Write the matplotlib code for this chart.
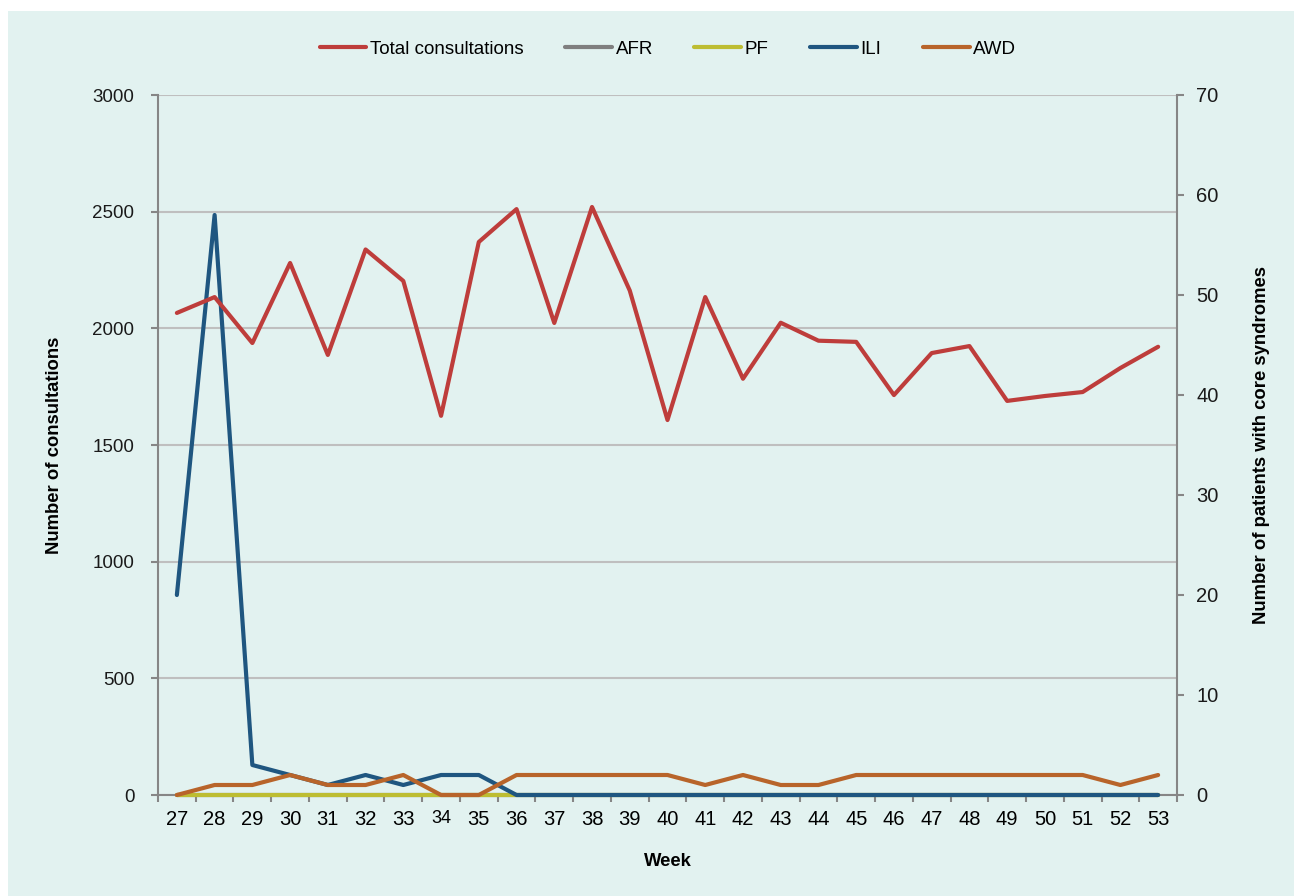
import matplotlib
matplotlib.use("Agg")
import matplotlib.pyplot as plt
from matplotlib.patches import Rectangle
from matplotlib.ticker import MultipleLocator, FixedLocator

plt.rcParams['font.family'] = ['Liberation Sans', 'DejaVu Sans']

weeks = list(range(27, 54))
total_consultations = [2066, 2134, 1937, 2280, 1886, 2338, 2203, 1625, 2370, 2511,
                       2023, 2520, 2162, 1607, 2134, 1784, 2024, 1947, 1942, 1714,
                       1894, 1924, 1689, 1710, 1727, 1830, 1921]
afr = [0] * 27
pf = [0] * 27
ili = [20, 58, 3, 2, 1, 2, 1, 2, 2, 0, 0, 0, 0, 0, 0, 0, 0, 0, 0, 0, 0, 0, 0, 0, 0, 0, 0]
awd = [0, 1, 1, 2, 1, 1, 2, 0, 0, 2, 2, 2, 2, 2, 1, 2, 1, 1, 2, 2, 2, 2, 2, 2, 2, 1, 2]

c_total = '#BE3D3B'
c_afr = '#7F7F7F'
c_pf = '#BDBD32'
c_ili = '#1F5680'
c_awd = '#B8642A'
bg = '#E2F2F0'
axis_grey = '#868686'

fig = plt.figure(figsize=(12.94, 8.96), dpi=100)
fig.patch.set_facecolor('white')
fig.patches.append(Rectangle((8 / 1294, 0), 1 - 8 / 1294, 1 - 11 / 896,
                             transform=fig.transFigure, facecolor=bg,
                             edgecolor='none', zorder=-10))

L, R = 158 / 1294, 1177 / 1294
B, T = 1 - 795 / 896, 1 - 95 / 896
rect = [L, B, R - L, T - B]

# base axes: left scale, grid, spines, ticks
ax = fig.add_axes(rect)
ax.set_facecolor('none')
ax.set_zorder(0)
# right-scale axes: syndrome lines
ax2 = ax.twinx()
ax2.set_facecolor('none')
ax2.set_zorder(1)
# top layer for total consultations (same scale as ax)
ax3 = fig.add_axes(rect, sharex=ax, sharey=ax)
ax3.set_facecolor('none')
ax3.set_zorder(2)
ax3.axis('off')

lw = 3.0
l2, = ax2.plot(weeks, afr, color=c_afr, lw=lw, solid_capstyle='round', label='AFR',
               zorder=3, clip_on=False)
l3, = ax2.plot(weeks, pf, color=c_pf, lw=lw, solid_capstyle='round', label='PF',
               zorder=4, clip_on=False)
l4, = ax2.plot(weeks, ili, color=c_ili, lw=lw, solid_capstyle='round',
               solid_joinstyle='round', label='ILI', zorder=5, clip_on=False)
l5, = ax2.plot(weeks, awd, color=c_awd, lw=lw, solid_capstyle='round',
               solid_joinstyle='round', label='AWD', zorder=6, clip_on=False)
l1, = ax3.plot(weeks, total_consultations, color=c_total, lw=lw, solid_capstyle='round',
               solid_joinstyle='round', label='Total consultations', zorder=5)

ax.set_xlim(26.5, 53.5)
ax.set_ylim(0, 3000)
ax2.set_ylim(0, 70)

ax.yaxis.set_major_locator(MultipleLocator(500))
ax2.yaxis.set_major_locator(MultipleLocator(10))
ax.set_xticks(weeks)
ax.set_xticklabels([str(w) for w in weeks])
ax.xaxis.set_minor_locator(FixedLocator([w + 0.5 for w in range(26, 54)]))

ax.grid(axis='y', color='#BFBFBF', lw=1.5, zorder=0)
ax.set_axisbelow(True)

for a in (ax, ax2):
    for s in a.spines.values():
        s.set_color(axis_grey)
        s.set_linewidth(1.5)
    a.spines['top'].set_visible(False)
ax.spines['right'].set_visible(False)
ax2.spines['left'].set_visible(False)
ax2.spines['bottom'].set_visible(False)

ax.tick_params(axis='x', which='major', length=0, pad=11, labelsize=14.5, colors='black')
ax.tick_params(axis='x', which='minor', length=5, width=1.5, color=axis_grey, direction='out')
ax.tick_params(axis='y', length=5, width=1.5, color=axis_grey, direction='out', pad=12,
               labelsize=13.5, labelcolor='#1a1a1a')
ax2.tick_params(axis='y', length=5, width=1.5, color=axis_grey, direction='out', pad=9,
                labelsize=14.5, labelcolor='#1a1a1a')

for lab in ax.get_xticklabels():
    if lab.get_text() == '34':
        lab.set_fontsize(13)

ax.set_ylabel('Number of consultations', fontsize=13.3, fontweight='bold')
ax.yaxis.set_label_coords(-0.093, 0.5)
ax2.set_ylabel('Number of patients with core syndromes', fontsize=13.3, fontweight='bold',
               rotation=90)
ax2.yaxis.set_label_coords(1.0746, 0.5)
ax.set_xlabel('Week', fontsize=13.3, fontweight='bold')
ax.xaxis.set_label_coords(0.5, -0.083)

fig.legend(handles=[l1, l2, l3, l4, l5], loc='center', bbox_to_anchor=(668 / 1294, 1 - 49 / 896),
           ncol=5, frameon=False, fontsize=13.5, handlelength=2.5, handletextpad=0.2,
           columnspacing=2.2)

fig.savefig('out.png', dpi=100)
